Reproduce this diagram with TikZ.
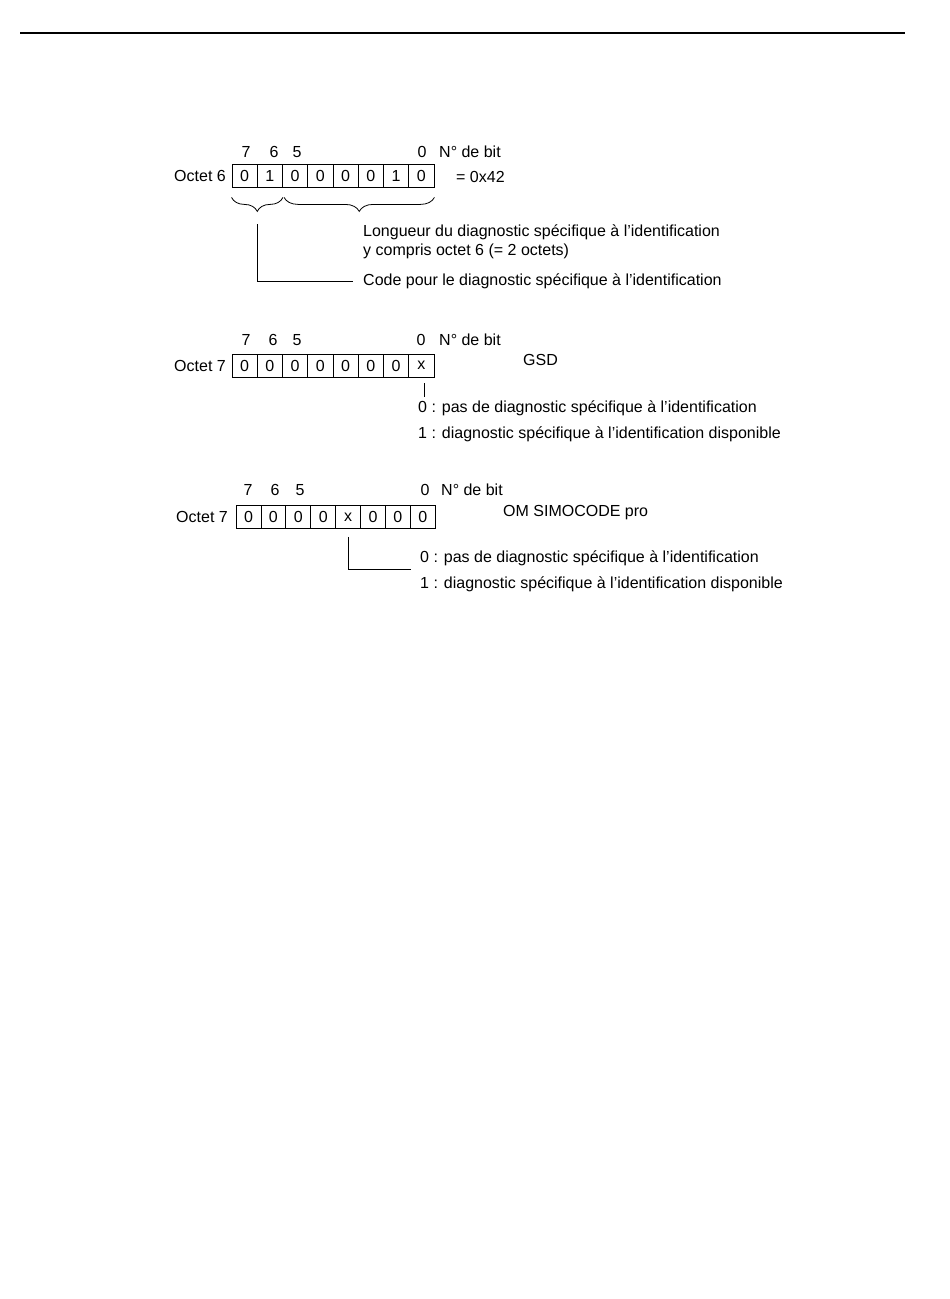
\documentclass[tikz,border=0pt]{standalone}
\usepackage{fontspec}
\setmainfont{Liberation Sans}
\usetikzlibrary{decorations.pathreplacing}

\begin{document}
\begin{tikzpicture}[
    x=1pt, y=-1pt,
    font=\fontsize{16}{19}\selectfont,
    bit/.style={draw, line width=0.8pt, minimum width=25.25pt, minimum height=23pt, inner sep=0pt},
    bitb/.style={bit, minimum width=24.9pt},
    lbl/.style={inner sep=0pt},
    txt/.style={anchor=west, inner sep=0pt},
    lead/.style={line width=0.8pt},
    grp/.style={decorate, decoration={brace, mirror, amplitude=14pt}, line width=0.8pt}
]
    \useasboundingbox (0,0) rectangle (950,1299);
    % --- page rule ---
    \coordinate (ruleL) at (20,33);
    \coordinate (ruleR) at (905,33);
    \draw[line width=1.3pt] (ruleL) -- (ruleR);

    % --- Octet 6 ---
    \node[lbl] (n1b7) at (246,152) {7};
    \node[lbl] (n1b6) at (274,152) {6};
    \node[lbl] (n1b5) at (297,152) {5};
    \node[lbl] (n1b0) at (422,152) {0};
    \node[txt] (nbit1) at (439,152) {N° de bit};
    \node[lbl, anchor=east] (oct6) at (226,175.5) {Octet 6};
    \node[bit] (r1b7) at (244.6,175.5) {0};
    \node[bit] (r1b6) at (269.9,175.5) {1};
    \node[bit] (r1b5) at (295.1,175.5) {0};
    \node[bit] (r1b4) at (320.4,175.5) {0};
    \node[bit] (r1b3) at (345.6,175.5) {0};
    \node[bit] (r1b2) at (370.9,175.5) {0};
    \node[bit] (r1b1) at (396.1,175.5) {1};
    \node[bit] (r1b0) at (421.4,175.5) {0};
    \node[txt] (hex) at (456,177) {= 0x42};
    % braces under the bits
    \draw[grp] ([yshift=-10pt]r1b7.south west) -- ([yshift=-10pt]r1b6.south east);
    \draw[grp] ([yshift=-10pt,xshift=2pt]r1b5.south west) -- ([yshift=-10pt]r1b0.south east);
    \coordinate (b1) at (257.3,224);
    \node[txt, align=left] (len) at (363,241.5) {Longueur du diagnostic spécifique à l'identification\\y compris octet 6 (= 2 octets)};
    \node[txt] (code) at (363,281) {Code pour le diagnostic spécifique à l'identification};
    \draw[lead] (b1) |- ([xshift=-10pt]code.west);

    % --- Octet 7 (GSD) ---
    \node[lbl] (n2b7) at (246,340) {7};
    \node[lbl] (n2b6) at (273,340) {6};
    \node[lbl] (n2b5) at (297,340) {5};
    \node[lbl] (n2b0) at (421,340) {0};
    \node[txt] (nbit2) at (439,340) {N° de bit};
    \node[lbl, anchor=east] (oct7a) at (226,365.5) {Octet 7};
    \node[bit] (r2b7) at (244.6,365.5) {0};
    \node[bit] (r2b6) at (269.9,365.5) {0};
    \node[bit] (r2b5) at (295.1,365.5) {0};
    \node[bit] (r2b4) at (320.4,365.5) {0};
    \node[bit] (r2b3) at (345.6,365.5) {0};
    \node[bit] (r2b2) at (370.9,365.5) {0};
    \node[bit] (r2b1) at (396.1,365.5) {0};
    \node[bit] (r2b0) at (421.4,365.5) {x};
    \node[txt] (gsd) at (523,360) {GSD};
    \node[txt] (g0) at (418,408) {0 : pas de diagnostic spécifique à l'identification};
    \node[txt] (g1) at (418,434) {1 : diagnostic spécifique à l'identification disponible};
    \draw[lead] ([xshift=2.5pt,yshift=-6pt]r2b0.south) -- ([xshift=2.5pt,yshift=-20pt]r2b0.south);

    % --- Octet 7 (OM SIMOCODE pro) ---
    \node[lbl] (n3b7) at (248,490) {7};
    \node[lbl] (n3b6) at (275,490) {6};
    \node[lbl] (n3b5) at (300,490) {5};
    \node[lbl] (n3b0) at (425,490) {0};
    \node[txt] (nbit3) at (441,490) {N° de bit};
    \node[lbl, anchor=east] (oct7b) at (228,517) {Octet 7};
    \node[bitb] (r3b7) at (248.5,517) {0};
    \node[bitb] (r3b6) at (273.4,517) {0};
    \node[bitb] (r3b5) at (298.3,517) {0};
    \node[bitb] (r3b4) at (323.2,517) {0};
    \node[bitb] (r3b3) at (348.1,517) {x};
    \node[bitb] (r3b2) at (373.0,517) {0};
    \node[bitb] (r3b1) at (397.9,517) {0};
    \node[bitb] (r3b0) at (422.8,517) {0};
    \node[txt] (om) at (503,513) {OM SIMOCODE pro};
    \node[txt] (s0) at (420,558) {0 : pas de diagnostic spécifique à l'identification};
    \node[txt] (s1) at (420,584) {1 : diagnostic spécifique à l'identification disponible};
    \coordinate (s0end) at (411,569);
    \draw[lead] ([yshift=-8pt]r3b3.south) |- (s0end);
\end{tikzpicture}
\end{document}
